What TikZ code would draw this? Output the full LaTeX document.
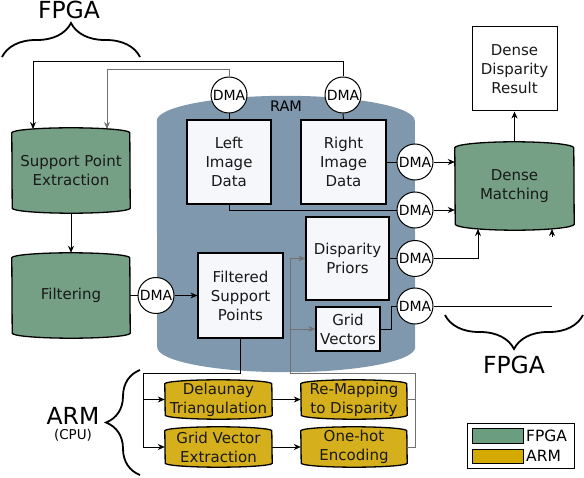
\documentclass[tikz,border=0pt]{standalone}
\usepackage{fontspec}
\setmainfont{DejaVu Sans}
\usetikzlibrary{arrows.meta,decorations.pathreplacing,calc}
\pgfdeclarelayer{bg}
\pgfsetlayers{bg,main}
\definecolor{fpgagreen}{HTML}{76A085}
\definecolor{armgold}{HTML}{D6B01C}
\definecolor{legendgreen}{HTML}{6B9E80}
\definecolor{legendgold}{HTML}{D4AA00}
\definecolor{ramblue}{HTML}{8098AD}
\definecolor{boxwhite}{HTML}{F5F7FA}
\definecolor{linegray}{HTML}{707070}
\newcommand{\drawcyl}[4]{%
  \path[#4] ([yshift=-#2pt]#1.north west) arc[start angle=180, end angle=0, x radius=#3pt, y radius=#2pt]
    -- ([yshift=#2pt]#1.south east) arc[start angle=0, end angle=-180, x radius=#3pt, y radius=#2pt] -- cycle;}
\tikzset{
  txt/.style={font=\fontsize{15}{19}\selectfont, align=center, text=black!90},
  box/.style={txt, draw=black, line width=1.3pt, fill=boxwhite, inner sep=0pt},
  cylbox/.style={txt, inner sep=0pt},
  dmac/.style={circle, draw=black, line width=1pt, fill=white, minimum size=36pt, inner sep=0pt, font=\fontsize{14}{16}\selectfont},
  conn/.style={line width=0.9pt, draw=black},
  arr/.style={conn, -{Stealth[length=7pt,width=6pt]}},
  gconn/.style={conn, draw=linegray},
  garr/.style={arr, draw=linegray},
  brc/.style={decorate, decoration={brace, amplitude=34pt}, line width=1.8pt},
  bigtxt/.style={font=\fontsize{23.5}{26}\selectfont, inner sep=0pt},
}
\begin{document}
\begin{tikzpicture}[x=1pt,y=-1pt]
\useasboundingbox (0,0) rectangle (584,478);

% ---------- nodes ----------
\node[cylbox, minimum width=118pt, minimum height=85pt] (spe) at (71,170.5) {Support Point\\Extraction};
\node[cylbox, minimum width=118pt, minimum height=85pt] (filt) at (71,295.5) {Filtering};
\node[cylbox, minimum width=258pt, minimum height=276pt] (ram) at (286,234) {};
\node[font=\fontsize{14.5}{16}\selectfont, inner sep=0pt] (ramlbl) at (286,106) {RAM};
\node[cylbox, minimum width=119pt, minimum height=88pt] (dm) at (514.5,186) {Dense\\Matching};
\node[cylbox, minimum width=107pt, minimum height=39pt] (del) at (218.5,399.5) {Delaunay\\Triangulation};
\node[cylbox, minimum width=107pt, minimum height=40pt] (gve) at (218.5,447) {Grid Vector\\Extraction};
\node[cylbox, minimum width=106pt, minimum height=39pt] (remap) at (354,399.5) {Re-Mapping\\to Disparity};
\node[cylbox, minimum width=106pt, minimum height=40pt] (onehot) at (354,447) {One-hot\\Encoding};

\node[box, minimum width=84pt, minimum height=84pt] (left) at (229,162) {Left\\Image\\Data};
\node[box, minimum width=85pt, minimum height=84pt] (right) at (343.5,162) {Right\\Image\\Data};
\node[box, minimum width=85pt, minimum height=85pt] (fsp) at (240.5,295.5) {Filtered\\Support\\Points};
\node[box, minimum width=83pt, minimum height=83pt] (dp) at (347.5,258.5) {Disparity\\Priors};
\node[box, minimum width=64pt, minimum height=44pt] (gv) at (348,329) {Grid\\Vectors};
\node[box, line width=1pt, fill=white, minimum width=85pt, minimum height=84pt] (ddr) at (514.5,69) {Dense\\Disparity\\Result};

\node[dmac] (dmaf) at (156,295.5) {DMA};
\node[dmac] (dma1) at (229,95) {DMA};
\node[dmac] (dma2) at (343,95) {DMA};
\node[dmac] (dma3) at (415,162) {DMA};
\node[dmac] (dma4) at (415,210) {DMA};
\node[dmac] (dma5) at (415,258.5) {DMA};
\node[dmac] (dma6) at (415,306) {DMA};

% ---------- cylinder bodies ----------
\begin{pgfonlayer}{bg}
  \drawcyl{ram}{25}{129}{fill=ramblue}
  \drawcyl{spe}{5}{59}{fill=fpgagreen, draw=black, line width=1.3pt}
  \drawcyl{filt}{5}{59}{fill=fpgagreen, draw=black, line width=1.3pt}
  \drawcyl{dm}{6}{59.5}{fill=fpgagreen, draw=black, line width=1.3pt}
  \drawcyl{del}{4}{53.5}{fill=armgold, draw=black, line width=1.3pt}
  \drawcyl{gve}{4}{53.5}{fill=armgold, draw=black, line width=1.3pt}
  \drawcyl{remap}{4}{53}{fill=armgold, draw=black, line width=1.3pt}
  \drawcyl{onehot}{4}{53}{fill=armgold, draw=black, line width=1.3pt}
\end{pgfonlayer}

% ---------- coordinates ----------
\coordinate (speinA) at (33,129);
\coordinate (speinB) at (107,129);
\coordinate (dmb1) at (478,229);
\coordinate (dmb2) at (552,229);
\coordinate (dma6end) at (552,306);
\coordinate (dmb2s) at (552,237);
\coordinate (armbus) at (143,373);
\coordinate (loopR) at (415,373);
\coordinate (loopL) at (290,373);

% ---------- connectors ----------
\draw[arr] (dma2.north) -- ++(0,-15) -| (speinA);
\draw[garr] (dma1.north) -- ++(0,-7) -| (speinB);
\draw[arr] (spe.south) -- (filt.north);
\draw[conn] (filt.east) -- (dmaf.west);
\draw[arr] (dmaf.east) -- (fsp.west);
\draw[conn] (dma1.south) -- (left.north);
\draw[conn] (dma2.south) -- (right.north);
\draw[conn] (right.east) -- (dma3.west);
\draw[arr] (dma3.east) -- (dm.west |- dma3.east);
\draw[conn] (left.south) |- (dma4.west);
\draw[arr] (dma4.east) -- (dm.west |- dma4.east);
\draw[conn] (dp.east) -- (dma5.west);
\draw[arr] (dma5.east) -| (dmb1);
\draw[conn] (dma6.east) -- (dma6end);
\draw[arr] (dmb2s) -- (dmb2);
\draw[conn] (gv.east) -- ++(11,0) |- (dma6.west);
\draw[arr] (dm.north) -- (ddr.south);
\draw[arr] (fsp.south) |- (armbus) |- (gve.west);
\draw[arr] (armbus |- del.west) -- (del.west);
\draw[arr] (del.east) -- (remap.west);
\draw[arr] (gve.east) -- (onehot.west);
\draw[gconn] (remap.east) -- (remap.east -| loopR);
\draw[garr] (onehot.east) -| (loopR) -- (loopL) |- (dp.west);
\draw[garr] (loopL |- gv.west) -- (gv.west);

% ---------- braces and labels ----------
\draw[brc] (2,57) -- (140,57);
\node[bigtxt] (fpgatop) at (69,10) {FPGA};
\draw[brc] (583,315) -- (445,315);
\node[bigtxt] (fpgabot) at (514,365) {FPGA};
\draw[brc] (140,475) -- (140,370);
\node[bigtxt] (armlbl) at (73,416) {ARM};
\node[font=\fontsize{13.5}{15}\selectfont, inner sep=0pt] (cpulbl) at (73,435) {(CPU)};

% ---------- legend ----------
\node[draw=black, line width=0.8pt, minimum width=107pt, minimum height=45pt, inner sep=0pt] (legend) at (520.5,445.5) {};
\node[draw=black, line width=0.8pt, fill=legendgreen, minimum width=51pt, minimum height=15pt, inner sep=0pt] (lg1) at (497.5,435.5) {};
\node[draw=black, line width=0.8pt, fill=legendgold, minimum width=51pt, minimum height=14pt, inner sep=0pt] (lg2) at (497.5,456) {};
\node[anchor=west, font=\fontsize{15.5}{17}\selectfont, inner sep=0pt] (lt1) at (526,435.5) {FPGA};
\node[anchor=west, font=\fontsize{15.5}{17}\selectfont, inner sep=0pt] (lt2) at (526,456) {ARM};
\end{tikzpicture}
\end{document}
